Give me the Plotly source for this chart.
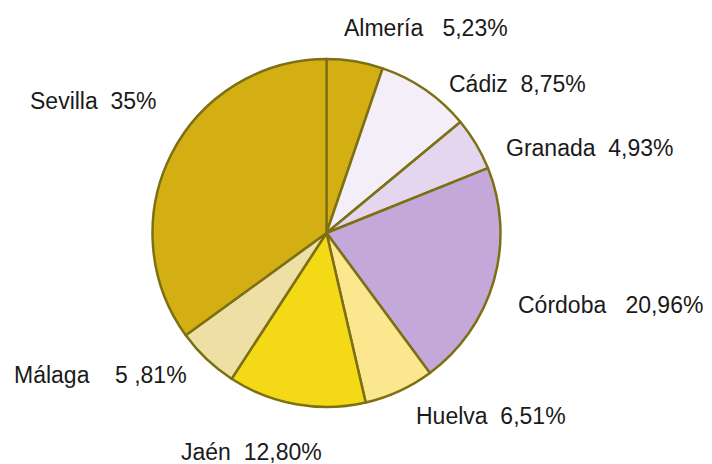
import plotly.graph_objects as go

# Data
provinces = ["Almería", "Cádiz", "Granada", "Córdoba", "Huelva", "Jaén", "Málaga", "Sevilla"]
shares = [5.23, 8.75, 4.93, 20.96, 6.51, 12.80, 5.81, 35.0]
share_labels = ["5,23%", "8,75%", "4,93%", "20,96%", "6,51%", "12,80%", "5 ,81%", "35%"]

# Styling
colors = ["#D4AF14", "#F3EEF7", "#E3D6EE", "#C4A8DA", "#FBE88E", "#F4D916", "#EEDFA4", "#D4AF14"]
line_color = "#7D7014"

W, H = 712, 464
cx, cy, r = 326.5, 233, 174

# label layout: left x, center y (pixels), number of gap spaces
label_pos = {
    "Almería": (343, 28, 3),
    "Cádiz": (448, 84, 2),
    "Granada": (505, 148, 2),
    "Córdoba": (517, 305, 3),
    "Huelva": (415, 416, 2),
    "Jaén": (180, 452, 2),
    "Málaga": (13, 375, 4),
    "Sevilla": (29, 101, 2),
}

fig = go.Figure(go.Pie(
    labels=provinces,
    values=shares,
    sort=False,
    direction="clockwise",
    rotation=0,
    marker=dict(colors=colors, line=dict(color=line_color, width=2.5)),
    textinfo="none",
    hoverinfo="label+percent",
    showlegend=False,
    domain=dict(x=[(cx - r) / W, (cx + r) / W], y=[(H - cy - r) / H, (H - cy + r) / H]),
))

annotations = []
for name, lab in zip(provinces, share_labels):
    lx, ly, gap = label_pos[name]
    annotations.append(dict(
        text=name + "\u00a0" * gap + lab,
        xref="paper", yref="paper",
        x=lx / W, y=1 - ly / H,
        xanchor="left", yanchor="middle",
        showarrow=False,
        borderpad=0,
        font=dict(family="Liberation Sans, Arial, sans-serif", size=23, color="#1a1a1a"),
    ))

fig.update_layout(
    width=W, height=H,
    margin=dict(l=0, r=0, t=0, b=0),
    paper_bgcolor="white",
    plot_bgcolor="white",
    annotations=annotations,
)

fig.write_html(
    "out.html",
    config={"displayModeBar": False},
    post_script="document.body.style.margin='0';document.body.style.overflow='hidden';",
)
